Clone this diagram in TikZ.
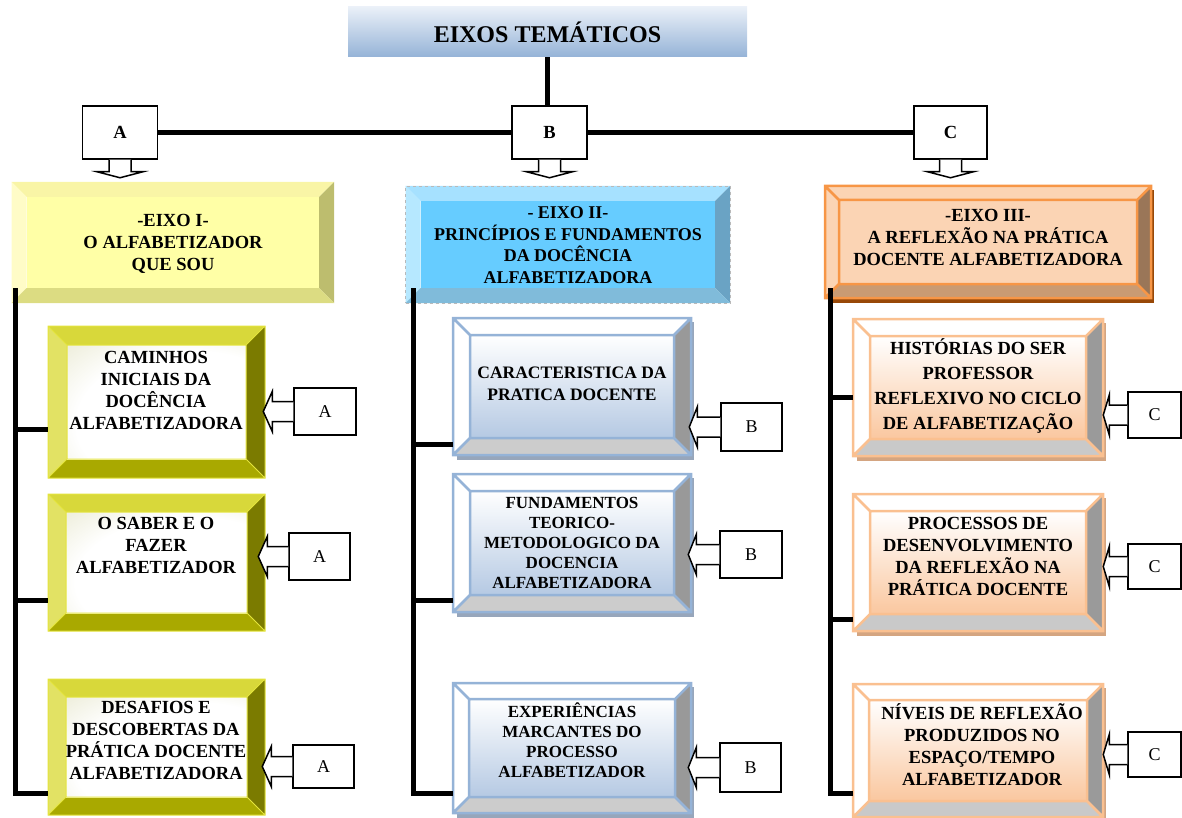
\documentclass[tikz,border=0pt]{standalone}
\usepackage{fontspec}
\setmainfont{Liberation Serif}
\usetikzlibrary{arrows.meta}

\definecolor{titletop}{HTML}{EAF0F8}
\definecolor{titlebot}{HTML}{95B3D7}
\definecolor{olvshade}{HTML}{B9B96E}
\pgfdeclareradialshading{yelface}{\pgfpoint{15bp}{-15bp}}{color(0bp)=(white); color(32bp)=(white); color(88bp)=(olvshade)}

% bevelled box: family, name, x1, y1, x2, y2, depth
\newcommand{\bevbox}[7]{%
  \path[#1 shadow] ({#3+4},{#4+4}) rectangle ({#5+3},{#6+5});
  \path[#1 top] (#3,#4) -- (#5,#4) -- ({#5-#7},{#4+#7}) -- ({#3+#7},{#4+#7}) -- cycle;
  \path[#1 left] (#3,#4) -- ({#3+#7},{#4+#7}) -- ({#3+#7},{#6-#7}) -- (#3,#6) -- cycle;
  \path[#1 right] (#5,#4) -- (#5,#6) -- ({#5-#7},{#6-#7}) -- ({#5-#7},{#4+#7}) -- cycle;
  \path[#1 bottom] (#3,#6) -- (#5,#6) -- ({#5-#7},{#6-#7}) -- ({#3+#7},{#6-#7}) -- cycle;
  \path[#1 face] ({#3+#7},{#4+#7}) rectangle ({#5-#7},{#6-#7});
  \path[#1 edge] (#3,#4) rectangle (#5,#6) ({#3+#7},{#4+#7}) rectangle ({#5-#7},{#6-#7})
    (#3,#4) -- ({#3+#7},{#4+#7}) (#5,#4) -- ({#5-#7},{#4+#7})
    (#3,#6) -- ({#3+#7},{#6-#7}) (#5,#6) -- ({#5-#7},{#6-#7});
  \node[#1 frame, minimum width={#5-#3}, minimum height={#6-#4}] (#2) at ({(#3+#5)/2},{(#4+#6)/2}) {};
}
% block arrow pointing left into a box: callout, shaft length, head depth
\newcommand{\leftblock}[3]{%
  \draw[blockarrow] (#1.west) ++(0,-10) -- ++(-#2,0) -- ++(0,-10) -- ++(-#3,20) -- ++(#3,20) -- ++(0,-10) -- ++(#2,0);
}
% block arrow pointing down below a letter box
\newcommand{\downblock}[1]{%
  \draw[blockarrow] (#1.south) ++(-11,0) -- ++(0,12) -- ++(-12,0) -- ++(23,6) -- ++(23,-6) -- ++(-12,0) -- ++(0,-12);
}

\begin{document}
\begin{tikzpicture}[x=1pt,y=-1pt,
  every node/.style={font=\fontsize{18.5}{22}\selectfont\bfseries, align=center, inner sep=0pt},
  trunk/.style={line width=5pt},
  letterbox/.style={draw, line width=1.5pt, fill=white, minimum width=75, minimum height=53},
  callout/.style={draw, line width=1.5pt, fill=white, font=\fontsize{18}{20}\selectfont},
  blockarrow/.style={draw, fill=white, line width=1.5pt, line join=miter},
  eixoa shadow/.style={}, eixoa top/.style={fill=yellow!30!white!95!olive}, eixoa left/.style={fill=yellow!22!white},
  eixoa right/.style={fill={rgb,255:red,189;green,189;blue,110}}, eixoa bottom/.style={fill={rgb,255:red,220;green,220;blue,130}},
  eixoa face/.style={fill={rgb,255:red,255;green,255;blue,166}}, eixoa edge/.style={}, eixoa frame/.style={},
  eixob shadow/.style={}, eixob top/.style={fill={rgb,255:red,166;green,225;blue,255}}, eixob left/.style={fill={rgb,255:red,182;green,232;blue,255}},
  eixob right/.style={fill={rgb,255:red,106;green,163;blue,196}}, eixob bottom/.style={fill={rgb,255:red,128;green,187;blue,218}},
  eixob face/.style={fill={rgb,255:red,102;green,204;blue,255}}, eixob edge/.style={}, eixob frame/.style={draw=gray!55, dashed, thin},
  eixoc shadow/.style={fill={rgb,255:red,152;green,72;blue,7}}, eixoc top/.style={fill={rgb,255:red,251;green,212;blue,180}},
  eixoc left/.style={fill={rgb,255:red,251;green,212;blue,180}}, eixoc right/.style={fill={rgb,255:red,154;green,118;blue,88}},
  eixoc bottom/.style={fill={rgb,255:red,201;green,155;blue,115}}, eixoc face/.style={fill={rgb,255:red,251;green,212;blue,180}},
  eixoc edge/.style={draw={rgb,255:red,247;green,150;blue,70}, line width=2.5pt}, eixoc frame/.style={},
  suba shadow/.style={}, suba top/.style={fill={rgb,255:red,216;green,216;blue,58}}, suba left/.style={fill={rgb,255:red,226;green,226;blue,100}},
  suba right/.style={fill={rgb,255:red,123;green,123;blue,0}}, suba bottom/.style={fill={rgb,255:red,169;green,169;blue,0}},
  suba face/.style={shade, shading=yelface}, suba edge/.style={draw={rgb,255:red,228;green,228;blue,60}, line width=1pt}, suba frame/.style={},
  subb shadow/.style={fill={rgb,255:red,151;green,166;blue,187}}, subb top/.style={fill=white}, subb left/.style={fill=white},
  subb right/.style={fill={rgb,255:red,153;green,153;blue,153}}, subb bottom/.style={fill={rgb,255:red,204;green,204;blue,204}},
  subb face/.style={top color=white, bottom color={rgb,255:red,181;green,201;blue,227}},
  subb edge/.style={draw={rgb,255:red,149;green,179;blue,215}, line width=2.5pt}, subb frame/.style={},
  subc shadow/.style={fill={rgb,255:red,212;green,165;blue,129}}, subc top/.style={fill=white}, subc left/.style={fill=white},
  subc right/.style={fill={rgb,255:red,154;green,154;blue,154}}, subc bottom/.style={fill={rgb,255:red,201;green,201;blue,201}},
  subc face/.style={top color=white, bottom color={rgb,255:red,250;green,199;blue,159}},
  subc edge/.style={draw={rgb,255:red,250;green,192;blue,144}, line width=2.5pt}, subc frame/.style={}]
\useasboundingbox (0,0) rectangle (1182,818);

\node[top color=titletop, bottom color=titlebot, minimum width=399, minimum height=50,
  font=\fontsize{24}{26}\selectfont\bfseries] (title) at (547.5,32) {EIXOS TEMÁTICOS};

\node[letterbox] (tA) at (120,132.5) {A};
\node[letterbox] (tB) at (549.5,132.5) {B};
\node[letterbox, minimum width=73] (tC) at (950.5,132.5) {C};
\draw[trunk] (title.south) -- (title.south |- tB.north);
\draw[trunk] (tA.east) -- (tB.west);
\draw[trunk] (tB.east) -- (tC.west);
\downblock{tA}
\downblock{tB}
\downblock{tC}

\bevbox{eixoa}{eixoI}{11.5}{182}{334}{303}{15}
\bevbox{eixob}{eixoII}{405.5}{186}{730}{303}{15}
\bevbox{eixoc}{eixoIII}{825}{186}{1151}{298}{14}
\node (eixoI-t) at (173,244) {-EIXO I-\\O ALFABETIZADOR\\QUE SOU};
\node[font=\fontsize{18}{21.5}\selectfont\bfseries] (eixoII-t) at (568,245) {- EIXO II-\\PRINCÍPIOS E FUNDAMENTOS\\DA DOCÊNCIA\\ALFABETIZADORA};
\node (eixoIII-t) at (988,237) {-EIXO III-\\A REFLEXÃO NA PRÁTICA\\DOCENTE ALFABETIZADORA};

\bevbox{suba}{A1}{48}{326}{265}{478}{19}
\bevbox{suba}{A2}{48}{494}{265}{631}{18}
\bevbox{suba}{A3}{48}{679}{265}{815}{18}
\node (A1-t) at (156,390) {CAMINHOS\\INICIAIS DA\\DOCÊNCIA\\ALFABETIZADORA};
\node (A2-t) at (156,545) {O SABER E O\\FAZER\\ALFABETIZADOR};
\node (A3-t) at (156,740) {DESAFIOS E\\DESCOBERTAS DA\\PRÁTICA DOCENTE\\ALFABETIZADORA};

\bevbox{subb}{B1}{453}{318}{691}{455}{17}
\bevbox{subb}{B2}{453}{474}{691}{612}{17}
\bevbox{subb}{B3}{453}{683}{691}{813}{16}
\node[font=\fontsize{17.5}{22}\selectfont\bfseries] (B1-t) at (572,384) {CARACTERISTICA DA\\PRATICA DOCENTE};
\node[font=\fontsize{17}{20}\selectfont\bfseries] (B2-t) at (572,543) {FUNDAMENTOS\\TEORICO-\\METODOLOGICO DA\\DOCENCIA\\ALFABETIZADORA};
\node[font=\fontsize{17}{20}\selectfont\bfseries] (B3-t) at (572,740) {EXPERIÊNCIAS\\MARCANTES DO\\PROCESSO\\ALFABETIZADOR};

\bevbox{subc}{C1}{853}{319}{1103}{456}{17}
\bevbox{subc}{C2}{853}{494}{1103}{631}{17}
\bevbox{subc}{C3}{853}{684}{1103}{817}{16}
\node[font=\fontsize{18.5}{25}\selectfont\bfseries] (C1-t) at (978,386) {HISTÓRIAS DO SER\\PROFESSOR\\REFLEXIVO NO CICLO\\DE ALFABETIZAÇÃO};
\node (C2-t) at (978,556) {PROCESSOS DE\\DESENVOLVIMENTO\\DA REFLEXÃO NA\\PRÁTICA DOCENTE};
\node (C3-t) at (982,745) {NÍVEIS DE REFLEXÃO\\PRODUZIDOS NO\\ESPAÇO/TEMPO\\ALFABETIZADOR};

\coordinate (jA1) at (15,429);
\coordinate (jA2) at (15,600);
\coordinate (jA3) at (15,793);
\coordinate (jB1) at (413,444);
\coordinate (jB2) at (413,600);
\coordinate (jB3) at (413,793);
\coordinate (jC1) at (830,397);
\coordinate (jC2) at (830,619);
\coordinate (jC3) at (830,793);
\draw[trunk] (jA3 |- 0,288) -- (jA3) -- (jA3 -| A3.west);
\draw[trunk] (jA1) -- (jA1 -| A1.west);
\draw[trunk] (jA2) -- (jA2 -| A2.west);
\draw[trunk] (jB3 |- 0,288) -- (jB3) -- (jB3 -| B3.west);
\draw[trunk] (jB1) -- (jB1 -| B1.west);
\draw[trunk] (jB2) -- (jB2 -| B2.west);
\draw[trunk] (jC3 |- 0,288) -- (jC3) -- (jC3 -| C3.west);
\draw[trunk] (jC1) -- (jC1 -| C1.west);
\draw[trunk] (jC2) -- (jC2 -| C2.west);

\node[callout, minimum width=62, minimum height=47] (cA1) at (325,411.5) {A};
\node[callout, minimum width=61, minimum height=47] (cA2) at (319.5,556.5) {A};
\node[callout, minimum width=61, minimum height=43] (cA3) at (323.5,766.5) {A};
\node[callout, minimum width=61, minimum height=48] (cB1) at (751.5,427) {B};
\node[callout, minimum width=62, minimum height=47] (cB2) at (751,554.5) {B};
\node[callout, minimum width=61, minimum height=49] (cB3) at (750.5,767.5) {B};
\node[callout, minimum width=53, minimum height=46] (cC1) at (1154.5,415) {C};
\node[callout, minimum width=53, minimum height=45] (cC2) at (1154.5,566.5) {C};
\node[callout, minimum width=53, minimum height=45] (cC3) at (1154.5,754.5) {C};
\leftblock{cA1}{21}{9}
\leftblock{cA2}{21}{9}
\leftblock{cA3}{21}{9}
\leftblock{cB1}{23}{8}
\leftblock{cB2}{23}{8}
\leftblock{cB3}{23}{8}
\leftblock{cC1}{18}{6}
\leftblock{cC2}{18}{6}
\leftblock{cC3}{18}{6}
\end{tikzpicture}
\end{document}
